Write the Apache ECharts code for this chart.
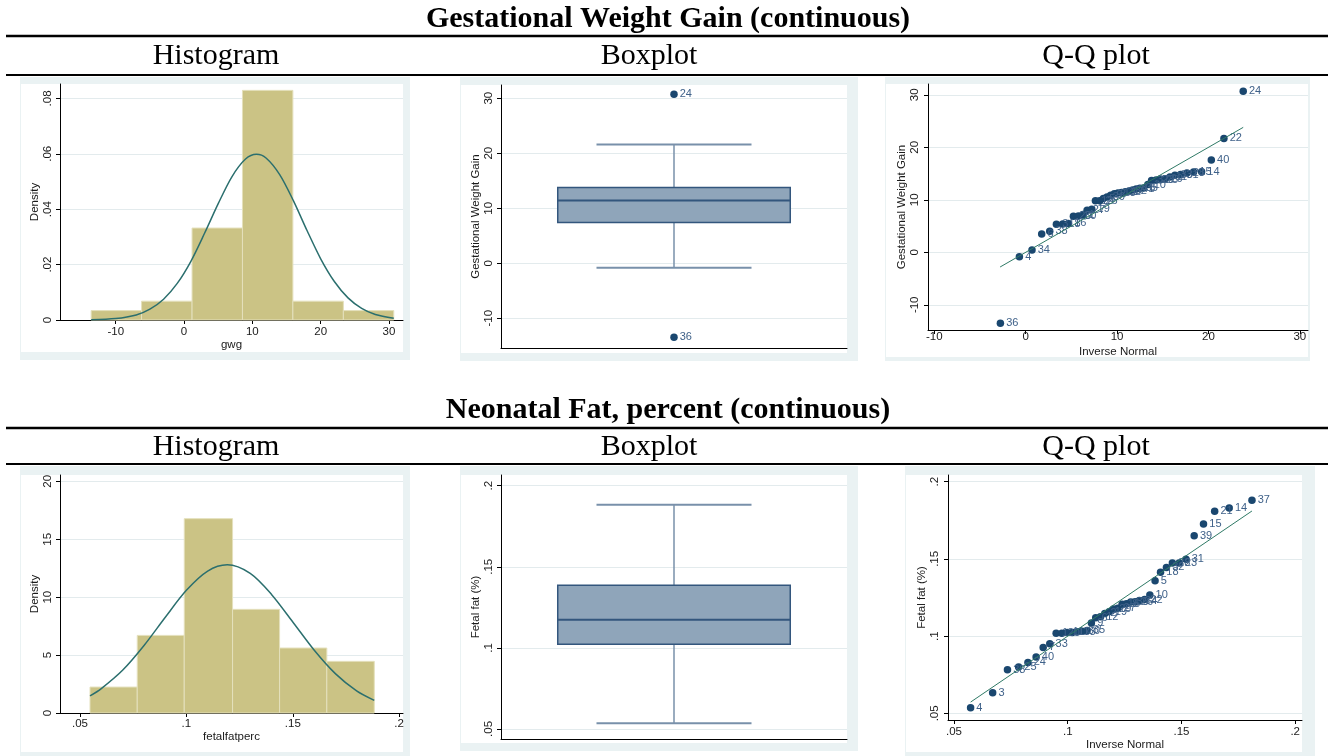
<!DOCTYPE html>
<html><head><meta charset="utf-8">
<script src="https://cdn.jsdelivr.net/npm/echarts@6/dist/echarts.min.js"></script>
<style>html,body{margin:0;padding:0;background:#fff}#c{width:1332px;height:756px}</style>
</head><body><div id="c"></div>
<script>
// ---------- DATA ----------
const titles = ['Gestational Weight Gain (continuous)', 'Neonatal Fat, percent (continuous)'];
const subHeads = ['Histogram', 'Boxplot', 'Q-Q plot'];

// Gestational weight gain
const gwgBinEdges = [-13.6, -6.22, 1.17, 8.55, 15.93, 23.32, 30.7];
const gwgDensity = [0.0034, 0.0068, 0.0332, 0.0829, 0.0068, 0.0034];
const gwgCurveX = [-13.6, -10, -7, -5, -3, -1, 1, 3, 5, 7, 9, 10.6, 12, 14, 16, 18, 20, 22, 24, 26, 28, 30.7];
const gwgCurveY = [0.0001, 0.0005, 0.0018, 0.0039, 0.0075, 0.0132, 0.0212, 0.0313, 0.042, 0.0517, 0.0581, 0.0598, 0.0585, 0.0525, 0.0431, 0.0323, 0.0221, 0.0139, 0.008, 0.0042, 0.002, 0.0006];
const gwgBox = [-0.8, 7.4, 11.4, 13.75, 21.6]; // low whisker, q1, median, q3, high whisker
const gwgOutlierY = [30.7, -13.45];
const gwgOutlierLabel = ['24', '36'];
const gwgQQx = [-2.77, -0.69, 0.69, 1.75, 2.63, 3.36, 4.05, 4.67, 5.22, 5.77, 6.28, 6.72, 7.23, 7.63, 8.1, 8.5, 8.9, 9.3, 9.7, 10.1, 10.5, 10.9, 11.3, 11.7, 12.1, 12.5, 12.9, 13.37, 13.77, 14.28, 14.72, 15.23, 15.78, 16.33, 16.95, 17.64, 18.37, 19.25, 20.31, 21.69, 23.8];
const gwgQQy = [-13.5, -0.83, 0.44, 3.5, 4.0, 5.33, 5.4, 5.5, 6.86, 6.9, 7.2, 8.0, 8.2, 9.8, 9.84, 10.25, 10.55, 10.85, 11.15, 11.3, 11.4, 11.55, 11.7, 11.88, 12.06, 12.2, 12.25, 12.9, 13.7, 13.78, 13.84, 14.0, 14.35, 14.67, 14.8, 15.1, 15.3, 15.36, 17.6, 21.7, 30.7];
const gwgQQlabel = ['36','4','34','6','38','3','18','16','20','30','1','27','19','12','26','5','39','9','2','13','21','17','32','7','41','35','8','10','37','23','25','29','11','33','31','28','15','14','40','22','24'];
const gwgFitX = [-2.8, 23.8];
const gwgFitY = [-2.8, 23.8];
const gwgHistXTicks = [-10, 0, 10, 20, 30];
const gwgHistYTicks = [0, 0.02, 0.04, 0.06, 0.08];
const gwgBoxYTicks = [-10, 0, 10, 20, 30];
const gwgQQXTicks = [-10, 0, 10, 20, 30];
const gwgQQYTicks = [-10, 0, 10, 20, 30];

// Neonatal fat
const fatBinEdges = [0.0547, 0.0769, 0.099, 0.1217, 0.1438, 0.166, 0.1883];
const fatDensity = [2.24, 6.7, 16.78, 8.95, 5.61, 4.46];
const fatCurveX = [0.0547, 0.06, 0.07, 0.08, 0.09, 0.1, 0.11, 0.1192, 0.13, 0.14, 0.15, 0.16, 0.17, 0.18, 0.1883];
const fatCurveY = [1.47, 2.11, 3.69, 5.81, 8.25, 10.59, 12.25, 12.79, 12.05, 10.24, 7.86, 5.44, 3.4, 1.91, 1.09];
const fatBox = [0.0535, 0.1023, 0.1173, 0.1386, 0.1883];
const fatQQx = [0.0573, 0.067, 0.0735, 0.0784, 0.0825, 0.0861, 0.0892, 0.0921, 0.0949, 0.0974, 0.0997, 0.102, 0.1043, 0.1063, 0.1085, 0.1104, 0.1123, 0.1144, 0.1163, 0.1182, 0.1201, 0.122, 0.1239, 0.1258, 0.1277, 0.1296, 0.1315, 0.1338, 0.1361, 0.1384, 0.1408, 0.1434, 0.146, 0.149, 0.152, 0.1556, 0.1597, 0.1646, 0.171, 0.181];
const fatQQy = [0.0537, 0.0634, 0.0783, 0.080, 0.083, 0.0865, 0.0927, 0.0951, 0.1018, 0.1018, 0.1024, 0.1024, 0.1029, 0.1031, 0.1037, 0.1085, 0.1119, 0.1126, 0.1147, 0.1158, 0.1176, 0.118, 0.1206, 0.121, 0.1221, 0.1223, 0.123, 0.1237, 0.1266, 0.1359, 0.1413, 0.1445, 0.1473, 0.1473, 0.1497, 0.165, 0.1726, 0.1808, 0.183, 0.188];
const fatQQlabel = ['4','3','38','25','24','40','7','33','1','20','11','17','13','30','35','9','6','12','2','19','29','27','16','8','36','26','34','22','10','5','18','32','28','23','31','39','15','21','14','37'];
const fatFitX = [0.0573, 0.181];
const fatFitY = [0.0573, 0.181];
const fatHistXTicks = [0.05, 0.1, 0.15, 0.2];
const fatHistYTicks = [0, 5, 10, 15, 20];
const fatBoxYTicks = [0.05, 0.1, 0.15, 0.2];
const fatQQXTicks = [0.05, 0.1, 0.15, 0.2];
const fatQQYTicks = [0.05, 0.1, 0.15, 0.2];

// ---------- STYLE / LAYOUT ----------
const SANS = '"Liberation Sans", Arial, Helvetica, sans-serif';
const SERIF = '"Liberation Serif", "Times New Roman", serif';
const BG = '#eaf2f3';
const NAVY = '#1a476f';
const LABEL_C = '#3f6189';
const TXT = '#1a1a1a';
const TICK_FS = 11.5;

function fmt(v) {
  const s = String(+(+v).toFixed(6));
  return s.replace(/^(-?)0\./, '$1.');
}

const grids = [
  {left: 60, top: 84, width: 343, height: 236},
  {left: 501, top: 85, width: 346, height: 263},
  {left: 928, top: 84, width: 380, height: 246},
  {left: 60, top: 475, width: 343, height: 238},
  {left: 501, top: 475, width: 346, height: 264},
  {left: 948, top: 475, width: 354, height: 245}
];

function xAx(gi, min, max, ticks, name, nameGap, margin) {
  return {
    type: 'value', gridIndex: gi, min: min, max: max,
    name: name, nameLocation: 'middle', nameGap: nameGap,
    nameTextStyle: {fontFamily: SANS, fontSize: 11.5, color: TXT},
    axisLine: {show: true, onZero: false, lineStyle: {color: '#000', width: 1}},
    axisTick: {show: true, length: 4, customValues: ticks, lineStyle: {color: '#000', width: 1}},
    axisLabel: {show: true, customValues: ticks, formatter: fmt, margin: margin,
      fontFamily: SANS, fontSize: TICK_FS, color: TXT},
    splitLine: {show: false}
  };
}
function yAx(gi, min, max, ticks, name, nameGap, margin) {
  return {
    type: 'value', gridIndex: gi, min: min, max: max,
    name: name, nameLocation: 'middle', nameGap: nameGap, nameRotate: 90,
    nameTextStyle: {fontFamily: SANS, fontSize: 11.5, color: TXT},
    axisLine: {show: true, onZero: false, lineStyle: {color: '#000', width: 1}},
    axisTick: {show: true, length: 4, customValues: ticks, lineStyle: {color: '#000', width: 1}},
    axisLabel: {show: true, customValues: ticks, formatter: fmt, margin: margin, rotate: 90,
      fontFamily: SANS, fontSize: TICK_FS, color: TXT},
    splitLine: {show: true, lineStyle: {color: '#e3ebed', width: 1}}
  };
}
function boxXAx(gi) {
  return {
    type: 'value', gridIndex: gi, min: 0, max: 1,
    axisLine: {show: true, onZero: false, lineStyle: {color: '#000', width: 1}},
    axisTick: {show: false}, axisLabel: {show: false}, splitLine: {show: false}
  };
}

const xAxes = [
  xAx(0, -18.16, 32.05, gwgHistXTicks, 'gwg', 15, 6),
  boxXAx(1),
  xAx(2, -10.69, 30.89, gwgQQXTicks, 'Inverse Normal', 16, 1),
  xAx(3, 0.0406, 0.2018, fatHistXTicks, 'fetalfatperc', 14, 5),
  boxXAx(4),
  xAx(5, 0.04736, 0.2030, fatQQXTicks, 'Inverse Normal', 14, 6)
];
const yAxes = [
  yAx(0, 0, 0.0852, gwgHistYTicks, 'Density', 16, 6),
  yAx(1, -15.4, 32.4, gwgBoxYTicks, 'Gestational Weight Gain', 17, 6),
  yAx(2, -14.8, 32.06, gwgQQYTicks, 'Gestational Weight Gain', 19, 7),
  yAx(3, 0, 20.55, fatHistYTicks, 'Density', 17, 6),
  yAx(4, 0.0438, 0.2066, fatBoxYTicks, 'Fetal fat (%)', 17, 6),
  yAx(5, 0.0457, 0.2043, fatQQYTicks, 'Fetal fat (%)', 18, 7)
];

function renderHist(params, api) {
  const p0 = api.coord([api.value(0), api.value(2)]);
  const p1 = api.coord([api.value(1), 0]);
  return {type: 'rect',
    shape: {x: p0[0], y: p0[1], width: p1[0] - p0[0], height: p1[1] - p0[1]},
    style: {fill: '#cbc385', stroke: '#e4e0bc', lineWidth: 1}};
}
function makeBoxRender(boxFrac, capFrac) {
  return function (params, api) {
    const lo = api.value(1), q1 = api.value(2), med = api.value(3), q3 = api.value(4), hi = api.value(5);
    const cx = api.coord([0.5, med])[0];
    const y = v => api.coord([0.5, v])[1];
    const hb = api.size([boxFrac, 0])[0] / 2;
    const hc = api.size([capFrac, 0])[0] / 2;
    const wc = '#7890aa', bc = '#33567d';
    return {type: 'group', children: [
      {type: 'line', shape: {x1: cx, y1: y(q3), x2: cx, y2: y(hi)}, style: {stroke: wc, lineWidth: 1.5}},
      {type: 'line', shape: {x1: cx, y1: y(q1), x2: cx, y2: y(lo)}, style: {stroke: wc, lineWidth: 1.5}},
      {type: 'line', shape: {x1: cx - hc, y1: y(hi), x2: cx + hc, y2: y(hi)}, style: {stroke: wc, lineWidth: 2}},
      {type: 'line', shape: {x1: cx - hc, y1: y(lo), x2: cx + hc, y2: y(lo)}, style: {stroke: wc, lineWidth: 2}},
      {type: 'rect', shape: {x: cx - hb, y: y(q3), width: 2 * hb, height: y(q1) - y(q3)},
        style: {fill: '#8fa5ba', stroke: bc, lineWidth: 1.5}},
      {type: 'line', shape: {x1: cx - hb, y1: y(med), x2: cx + hb, y2: y(med)}, style: {stroke: bc, lineWidth: 2}}
    ]};
  };
}

const pointLabel = {show: true, position: 'right', distance: 2, formatter: p => p.data[2],
  fontFamily: SANS, fontSize: 11, color: LABEL_C};
const markerStyle = {color: NAVY, opacity: 1};
const MS = 7.5;

const series = [
  {type: 'custom', xAxisIndex: 0, yAxisIndex: 0, renderItem: renderHist,
    encode: {x: [0, 1], y: 2}, silent: true,
    data: gwgDensity.map((d, i) => [gwgBinEdges[i], gwgBinEdges[i + 1], d])},
  {type: 'line', xAxisIndex: 0, yAxisIndex: 0, smooth: 0.3, showSymbol: false, silent: true,
    lineStyle: {color: '#2b6f6e', width: 1.5},
    data: gwgCurveX.map((x, i) => [x, gwgCurveY[i]])},
  {type: 'custom', xAxisIndex: 1, yAxisIndex: 1, renderItem: makeBoxRender(0.672, 0.448),
    encode: {x: 0, y: [1, 2, 3, 4, 5]}, silent: true, data: [[0.5].concat(gwgBox)]},
  {type: 'scatter', xAxisIndex: 1, yAxisIndex: 1, symbolSize: MS, itemStyle: markerStyle,
    label: pointLabel, silent: true,
    data: gwgOutlierY.map((v, i) => [0.5, v, gwgOutlierLabel[i]])},
  {type: 'line', xAxisIndex: 2, yAxisIndex: 2, showSymbol: false, silent: true,
    lineStyle: {color: '#2f7a66', width: 1},
    data: gwgFitX.map((x, i) => [x, gwgFitY[i]])},
  {type: 'scatter', xAxisIndex: 2, yAxisIndex: 2, symbolSize: MS, itemStyle: markerStyle,
    label: pointLabel, silent: true,
    data: gwgQQx.map((x, i) => [x, gwgQQy[i], gwgQQlabel[i]])},
  {type: 'custom', xAxisIndex: 3, yAxisIndex: 3, renderItem: renderHist,
    encode: {x: [0, 1], y: 2}, silent: true,
    data: fatDensity.map((d, i) => [fatBinEdges[i], fatBinEdges[i + 1], d])},
  {type: 'line', xAxisIndex: 3, yAxisIndex: 3, smooth: 0.3, showSymbol: false, silent: true,
    lineStyle: {color: '#2b6f6e', width: 1.5},
    data: fatCurveX.map((x, i) => [x, fatCurveY[i]])},
  {type: 'custom', xAxisIndex: 4, yAxisIndex: 4, renderItem: makeBoxRender(0.672, 0.448),
    encode: {x: 0, y: [1, 2, 3, 4, 5]}, silent: true, data: [[0.5].concat(fatBox)]},
  {type: 'line', xAxisIndex: 5, yAxisIndex: 5, showSymbol: false, silent: true,
    lineStyle: {color: '#2f7a66', width: 1},
    data: fatFitX.map((x, i) => [x, fatFitY[i]])},
  {type: 'scatter', xAxisIndex: 5, yAxisIndex: 5, symbolSize: MS, itemStyle: markerStyle,
    label: pointLabel, silent: true,
    data: fatQQx.map((x, i) => [x, fatQQy[i], fatQQlabel[i]])}
];

// panel backgrounds [bg rect, white rect]
const panels = [
  [[20, 77, 390, 283], [21, 84, 382, 268]],
  [[460, 77, 398, 284], [461, 85, 386, 268]],
  [[885, 77, 425, 284], [886, 84, 422, 273]],
  [[20, 466, 390, 290], [21, 475, 382, 277]],
  [[460, 466, 398, 285], [461, 475, 386, 268]],
  [[905, 466, 410, 290], [906, 475, 396, 277]]
];
const graphics = [];
panels.forEach(p => {
  graphics.push({type: 'rect', z: -20, silent: true, shape: {x: p[0][0], y: p[0][1], width: p[0][2], height: p[0][3]}, style: {fill: BG}});
  graphics.push({type: 'rect', z: -19, silent: true, shape: {x: p[1][0], y: p[1][1], width: p[1][2], height: p[1][3]}, style: {fill: '#fff'}});
});
[36, 75, 428, 464].forEach((yy, i) => {
  graphics.push({type: 'line', z: 5, silent: true, shape: {x1: 6, y1: yy, x2: 1328, y2: yy},
    style: {stroke: '#000', lineWidth: i % 2 === 0 ? 2.5 : 2}});
});
const titleY = [19, 410];
const subY = [56, 447];
const subX = [216, 649, 1096];
titles.forEach((t, i) => {
  graphics.push({type: 'text', z: 5, silent: true, x: 668, y: titleY[i],
    style: {text: t, fontFamily: SERIF, fontWeight: 'bold', fontSize: 30, fill: '#000',
      textAlign: 'center', textVerticalAlign: 'middle', align: 'center', verticalAlign: 'middle'}});
  subHeads.forEach((s, j) => {
    graphics.push({type: 'text', z: 5, silent: true, x: subX[j], y: subY[i],
      style: {text: s, fontFamily: SERIF, fontSize: 30, fill: '#000',
        textAlign: 'center', textVerticalAlign: 'middle', align: 'center', verticalAlign: 'middle'}});
  });
});

const chart = echarts.init(document.getElementById('c'), null, {renderer: 'canvas', width: 1332, height: 756});
chart.setOption({
  animation: false,
  backgroundColor: '#fff',
  grid: grids.map(g => Object.assign({containLabel: false}, g)),
  xAxis: xAxes,
  yAxis: yAxes,
  graphic: {elements: graphics},
  series: series
});
</script>
</body></html>
